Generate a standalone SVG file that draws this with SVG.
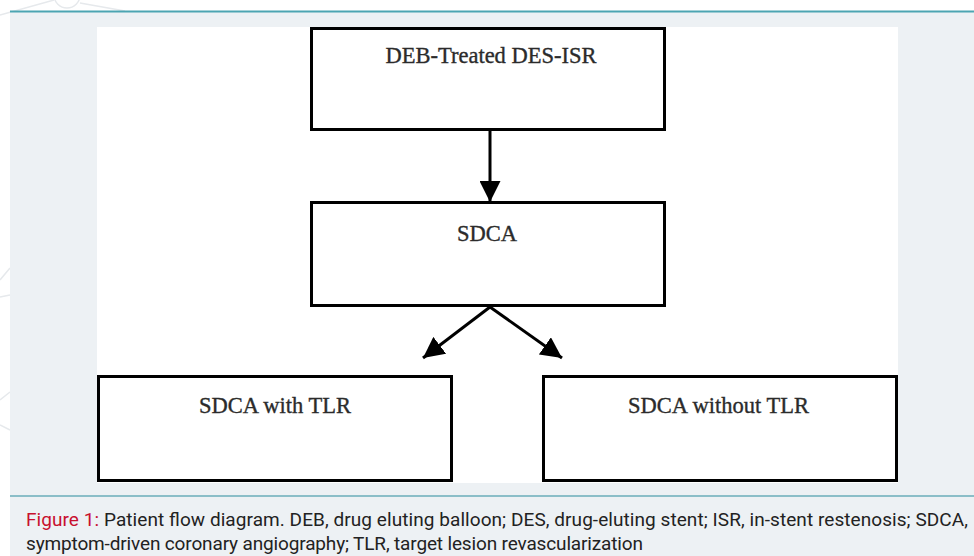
<svg xmlns="http://www.w3.org/2000/svg" width="974" height="556" viewBox="0 0 974 556">
<defs>
<style>
.box{fill:#fff;stroke:#000;stroke-width:3}
.lbl{font-family:"Liberation Serif",serif;font-size:22.5px;fill:#2b2b2b;stroke:#2b2b2b;stroke-width:0.35;text-anchor:middle}
.con{stroke:#000;stroke-width:3;fill:none}
.cap{font-family:Roboto,"Liberation Sans",sans-serif;font-size:19px;fill:#222}
.deco{stroke:#e6e9ec;stroke-width:1.5;fill:none}
</style>
<marker id="ah" viewBox="0 0 10 10" refX="10" refY="5" markerWidth="7" markerHeight="7" markerUnits="strokeWidth" orient="auto">
<path d="M0,0 L10,5 L0,10 Z" fill="#000"/>
</marker>
</defs>
<rect width="974" height="556" fill="#fff"/>
<g id="decoration">
<circle class="deco" cx="67" cy="-5" r="13"/>
<path class="deco" d="M0,15 L54,0 M80,3 L125,11 M0,280 L10,268 M0,297 L10,295 M0,400 L10,392 M0,425 L10,430"/>
</g>
<rect x="10" y="12" width="964" height="544" fill="#edf1f4"/>
<line x1="10" y1="11.5" x2="974" y2="11.5" stroke="#4ca5b2" stroke-width="2"/>
<rect x="97" y="27" width="801" height="456" fill="#fff"/>
<line x1="10" y1="496" x2="974" y2="496" stroke="#2b8c9c" stroke-width="1.2"/>
<g id="connectors">
<line class="con" x1="490" y1="131" x2="490" y2="202" marker-end="url(#ah)"/>
<line class="con" x1="490" y1="307" x2="423" y2="358" marker-end="url(#ah)"/>
<line class="con" x1="490" y1="307" x2="562" y2="358" marker-end="url(#ah)"/>
</g>
<g id="node-deb">
<rect class="box" x="311.5" y="28.5" width="353" height="101"/>
<text class="lbl" x="491" y="63">DEB-Treated DES-ISR</text>
</g>
<g id="node-sdca">
<rect class="box" x="311.5" y="202.5" width="353" height="103"/>
<text class="lbl" x="487" y="241">SDCA</text>
</g>
<g id="node-with">
<rect class="box" x="98.5" y="376.5" width="353" height="104"/>
<text class="lbl" x="275" y="413">SDCA with TLR</text>
</g>
<g id="node-without">
<rect class="box" x="543.5" y="376.5" width="353" height="104"/>
<text class="lbl" x="718.5" y="413">SDCA without TLR</text>
</g>
<g id="caption">
<text class="cap" x="26" y="526" textLength="942" lengthAdjust="spacing"><tspan fill="#c8102e">Figure 1:</tspan> Patient flow diagram. DEB, drug eluting balloon; DES, drug-eluting stent; ISR, in-stent restenosis; SDCA,</text>
<text class="cap" x="26" y="550" textLength="617" lengthAdjust="spacing">symptom-driven coronary angiography; TLR, target lesion revascularization</text>
</g>
</svg>
